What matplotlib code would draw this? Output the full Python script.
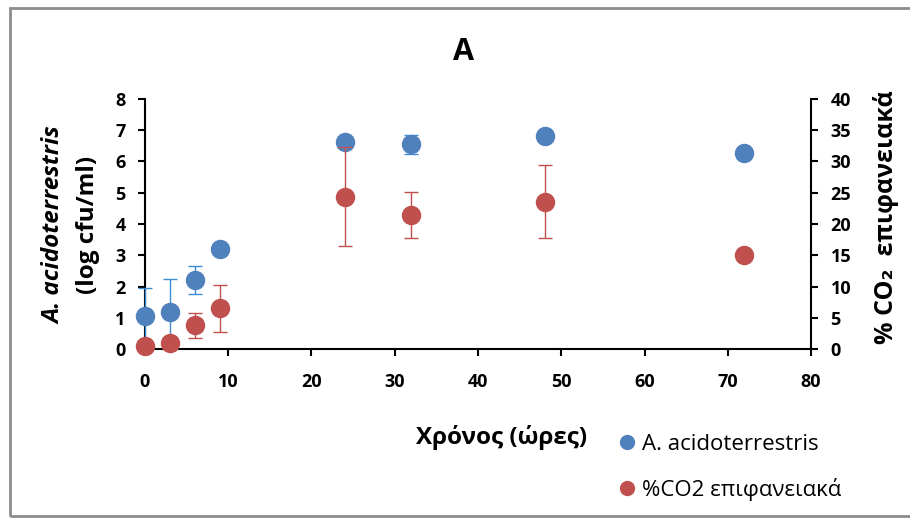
import matplotlib.pyplot as plt
from matplotlib.lines import Line2D
from matplotlib.patches import Rectangle

plt.rcParams['font.family'] = ['Open Sans', 'DejaVu Sans']

# ---- data ----
hours = [0, 3, 6, 9, 24, 32, 48, 72]
log_cfu = [1.06, 1.18, 2.2, 3.2, 6.62, 6.55, 6.82, 6.28]
log_cfu_err = [0.9, 1.06, 0.45, 0.0, 0.0, 0.3, 0.0, 0.0]
co2 = [0.5, 1.0, 3.8, 6.5, 24.4, 21.4, 23.6, 15.0]
co2_err = [0.0, 0.0, 2.05, 3.7, 7.9, 3.65, 5.9, 0.0]

xticks = [0, 10, 20, 30, 40, 50, 60, 70, 80]
yticks_left = [0, 1, 2, 3, 4, 5, 6, 7, 8]
yticks_right = [0, 5, 10, 15, 20, 25, 30, 35, 40]

blue = '#4F81BD'
red = '#C0504D'

fig = plt.figure(figsize=(9.1, 5.18), dpi=100)
ax = fig.add_axes([0.1593, 0.326, 0.732, 0.483])
ax2 = ax.twinx()

ax.errorbar(hours, log_cfu, yerr=log_cfu_err, fmt='o', ms=13, color=blue,
            ecolor='#3C8DD6', elinewidth=1, capsize=5, capthick=1, zorder=3)
ax2.errorbar(hours, co2, yerr=co2_err, fmt='o', ms=13, color=red,
             ecolor=red, elinewidth=1, capsize=5, capthick=1, zorder=3)

ax.set_xlim(0, 80)
ax.set_ylim(0, 8)
ax2.set_ylim(0, 40)
ax.set_xticks(xticks)
ax.set_yticks(yticks_left)
ax2.set_yticks(yticks_right)

for a in (ax, ax2):
    for s in a.spines.values():
        s.set_visible(False)
    a.tick_params(labelsize=13, width=1.5, length=5, direction='out', pad=9)
    for lab in a.get_xticklabels() + a.get_yticklabels():
        lab.set_fontweight('bold')
ax.spines['left'].set_visible(True)
ax.spines['bottom'].set_visible(True)
ax2.spines['right'].set_visible(True)
for s in (ax.spines['left'], ax.spines['bottom'], ax2.spines['right']):
    s.set_linewidth(1.5)
ax.tick_params(axis='x', pad=12)
for a in (ax, ax2):
    for c in a.get_children():
        c.set_clip_on(False)

fig.text(0.509, 0.9, 'A', fontsize=22, fontweight='bold', ha='center', va='center')

fig.text(0.06, 0.566, 'A. acidoterrestris', rotation=90, fontsize=17.5,
         fontweight='bold', fontstyle='italic', ha='center', va='center')
fig.text(0.097, 0.566, '(log cfu/ml)', rotation=90, fontsize=17.5,
         fontweight='bold', ha='center', va='center')
fig.text(0.974, 0.58, '% CO₂  επιφανειακά', rotation=90, fontsize=18,
         fontweight='bold', ha='center', va='center')

fig.text(0.551, 0.156, 'Χρόνος (ώρες)', fontsize=17.5, fontweight='bold',
         ha='center', va='center')

handles = [Line2D([], [], marker='o', ls='', color=blue, ms=10),
           Line2D([], [], marker='o', ls='', color=red, ms=10)]
fig.legend(handles, ['A. acidoterrestris', '%CO2 επιφανειακά'],
           loc='upper left', bbox_to_anchor=(0.67, 0.184),
           frameon=False, fontsize=16, handlelength=0.6, handletextpad=0.35,
           labelspacing=1.05, borderpad=0)

fig.patches.append(Rectangle((10 / 910, 0.003), 1.0, 1 - 8 / 518 - 0.003,
                             transform=fig.transFigure, fill=False,
                             edgecolor='#8C8C8C', linewidth=2))

fig.savefig('out.png', dpi=100)
